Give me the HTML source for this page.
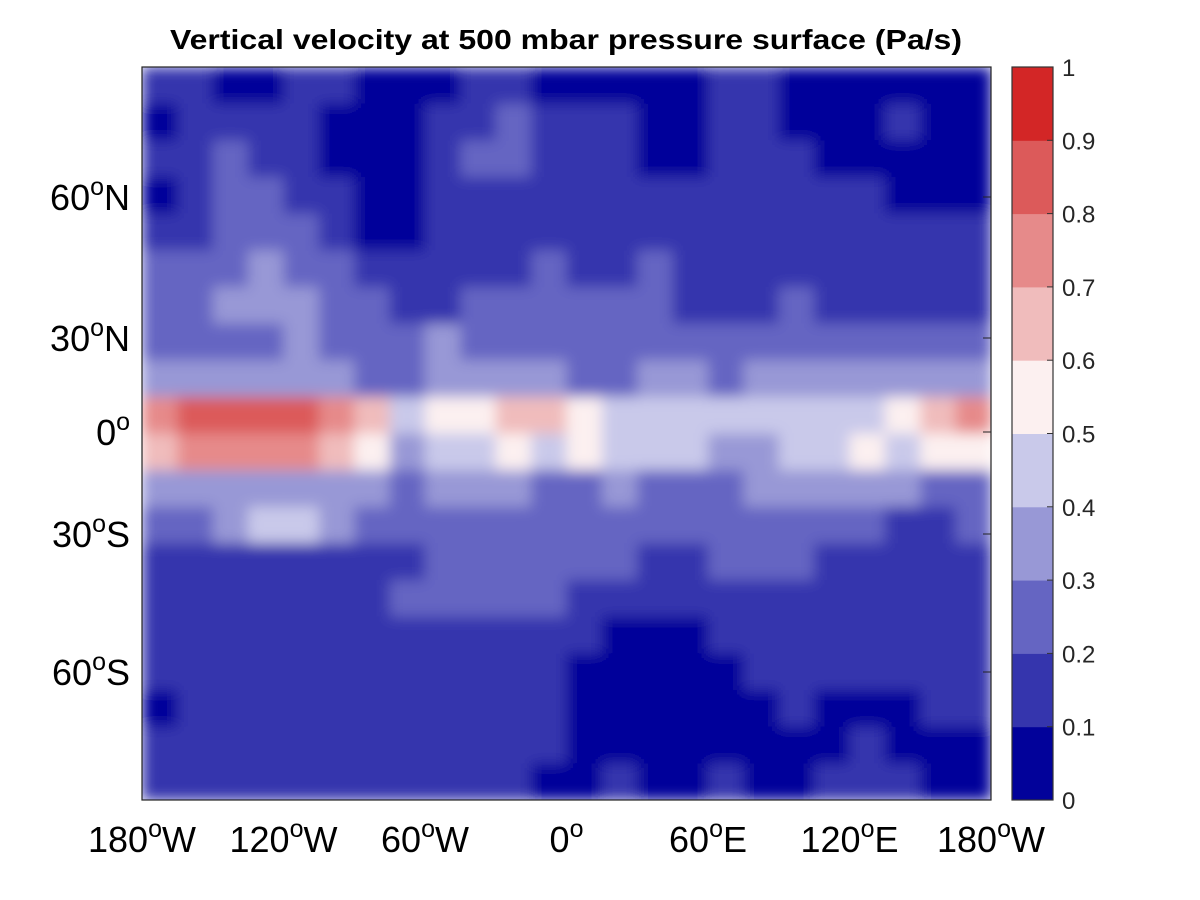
<!DOCTYPE html>
<html><head><meta charset="utf-8"><style>
html,body{margin:0;padding:0;background:#fff;width:1200px;height:900px;overflow:hidden}
svg text{font-family:"Liberation Sans",Arial,sans-serif}
</style></head><body>
<svg id="chart" width="1200" height="900" viewBox="0 0 1200 900" xmlns="http://www.w3.org/2000/svg">
<defs>
<clipPath id="plotclip"><rect x="142" y="67" width="849" height="733"/></clipPath>
<filter id="smooth" x="0" y="0" width="1" height="1"><feGaussianBlur stdDeviation="7" edgeMode="duplicate"/></filter>
</defs>
<rect width="1200" height="900" fill="#fff"/>
<g id="field" clip-path="url(#plotclip)"><g id="cells" filter="url(#smooth)"></g></g>
<rect x="142" y="67" width="849" height="733" fill="none" stroke="#222" stroke-width="1.2"/>
<g id="axes"></g>
<text x="566" y="49" text-anchor="middle" font-size="28" font-weight="bold" fill="#000" textLength="792" lengthAdjust="spacingAndGlyphs">Vertical velocity at 500 mbar pressure surface (Pa/s)</text>
<g id="cbar"></g>
</svg>
<script>
const levelColors=["#02029a","#3535ad","#6565c2","#9898d6","#c9c9ea","#fcf0f0","#f0bcbc","#e68a8a","#dc5a5a","#d32626"];
const cbTicks=[0,0.1,0.2,0.3,0.4,0.5,0.6,0.7,0.8,0.9,1];
const cbLabels=["0","0.1","0.2","0.3","0.4","0.5","0.6","0.7","0.8","0.9","1"];
const latTicks=[60,30,0,-30,-60];
const latLabels=["60","30","0","30","60"];
const latSuffix=["N","N","","S","S"];
const lonTicks=[-180,-120,-60,0,60,120,180];
const lonLabels=["180","120","60","0","60","120","180"];
const lonSuffix=["W","W","W","","E","E","W"];
const field=[
[0.15,0.15,0.05,0.05,0.15,0.15,0.05,0.05,0.05,0.15,0.15,0.05,0.05,0.05,0.05,0.05,0.15,0.15,0.05,0.05,0.05,0.05,0.05,0.05],
[0.05,0.15,0.15,0.15,0.15,0.05,0.05,0.05,0.15,0.15,0.25,0.15,0.15,0.15,0.05,0.05,0.15,0.15,0.05,0.05,0.05,0.15,0.05,0.05],
[0.15,0.15,0.25,0.15,0.15,0.05,0.05,0.05,0.15,0.25,0.25,0.15,0.15,0.15,0.05,0.05,0.15,0.15,0.15,0.05,0.05,0.05,0.05,0.05],
[0.05,0.15,0.25,0.25,0.15,0.15,0.05,0.05,0.15,0.15,0.15,0.15,0.15,0.15,0.15,0.15,0.15,0.15,0.15,0.15,0.15,0.05,0.05,0.05],
[0.15,0.15,0.25,0.25,0.25,0.15,0.05,0.05,0.15,0.15,0.15,0.15,0.15,0.15,0.15,0.15,0.15,0.15,0.15,0.15,0.15,0.15,0.15,0.15],
[0.25,0.25,0.25,0.35,0.25,0.25,0.15,0.15,0.15,0.15,0.15,0.25,0.15,0.15,0.25,0.15,0.15,0.15,0.15,0.15,0.15,0.15,0.15,0.15],
[0.25,0.25,0.35,0.35,0.35,0.25,0.25,0.15,0.15,0.25,0.25,0.25,0.25,0.25,0.25,0.15,0.15,0.15,0.25,0.15,0.15,0.15,0.15,0.15],
[0.25,0.25,0.25,0.25,0.35,0.25,0.25,0.25,0.35,0.25,0.25,0.25,0.25,0.25,0.25,0.25,0.25,0.25,0.25,0.25,0.25,0.25,0.25,0.25],
[0.35,0.35,0.35,0.35,0.35,0.35,0.25,0.25,0.35,0.35,0.35,0.35,0.25,0.25,0.35,0.35,0.25,0.35,0.35,0.35,0.35,0.35,0.35,0.35],
[0.75,0.85,0.85,0.85,0.85,0.75,0.65,0.45,0.55,0.55,0.65,0.65,0.55,0.45,0.45,0.45,0.45,0.45,0.45,0.45,0.45,0.55,0.65,0.75],
[0.65,0.75,0.75,0.75,0.75,0.65,0.55,0.35,0.45,0.45,0.55,0.45,0.55,0.45,0.45,0.45,0.35,0.35,0.45,0.45,0.55,0.45,0.55,0.55],
[0.35,0.35,0.35,0.35,0.35,0.35,0.35,0.25,0.35,0.35,0.35,0.25,0.25,0.35,0.25,0.25,0.25,0.35,0.35,0.35,0.35,0.35,0.25,0.25],
[0.25,0.25,0.35,0.45,0.45,0.35,0.25,0.25,0.25,0.25,0.25,0.25,0.25,0.25,0.25,0.25,0.25,0.25,0.25,0.25,0.25,0.15,0.15,0.25],
[0.15,0.15,0.15,0.15,0.15,0.15,0.15,0.15,0.25,0.25,0.25,0.25,0.25,0.25,0.15,0.15,0.25,0.25,0.25,0.15,0.15,0.15,0.15,0.15],
[0.15,0.15,0.15,0.15,0.15,0.15,0.15,0.25,0.25,0.25,0.25,0.25,0.15,0.15,0.15,0.15,0.15,0.15,0.15,0.15,0.15,0.15,0.15,0.15],
[0.15,0.15,0.15,0.15,0.15,0.15,0.15,0.15,0.15,0.15,0.15,0.15,0.15,0.05,0.05,0.05,0.15,0.15,0.15,0.15,0.15,0.15,0.15,0.15],
[0.15,0.15,0.15,0.15,0.15,0.15,0.15,0.15,0.15,0.15,0.15,0.15,0.05,0.05,0.05,0.05,0.05,0.15,0.15,0.15,0.15,0.15,0.15,0.15],
[0.05,0.15,0.15,0.15,0.15,0.15,0.15,0.15,0.15,0.15,0.15,0.15,0.05,0.05,0.05,0.05,0.05,0.05,0.15,0.05,0.05,0.05,0.15,0.15],
[0.15,0.15,0.15,0.15,0.15,0.15,0.15,0.15,0.15,0.15,0.15,0.15,0.05,0.05,0.05,0.05,0.05,0.05,0.05,0.05,0.15,0.05,0.05,0.05],
[0.15,0.15,0.15,0.15,0.15,0.15,0.15,0.15,0.15,0.15,0.15,0.05,0.05,0.15,0.05,0.05,0.15,0.05,0.05,0.15,0.15,0.15,0.05,0.05]
];
const NS="http://www.w3.org/2000/svg";
const X0=142,X1=991,Y0=67,Y1=800;
function xLon(l){return X0+(l+180)/360*(X1-X0);}
const latPx={"60":197,"30":338,"0":432,"-30":534,"-60":672};
function yLat(l){return latPx[String(l)];}
function colorFor(v){let i=Math.floor(v*10);if(i<0)i=0;if(i>9)i=9;return levelColors[i];}
const cells=document.getElementById('cells');
const nr=field.length,nc=field[0].length;
const cw=(X1-X0)/nc,ch=(Y1-Y0)/nr;
for(let r=0;r<nr;r++)for(let c=0;c<nc;c++){
  const el=document.createElementNS(NS,'rect');
  el.setAttribute('x',X0+c*cw);el.setAttribute('y',Y0+r*ch);
  el.setAttribute('width',cw+0.6);el.setAttribute('height',ch+0.6);
  el.setAttribute('fill',colorFor(field[r][c]));
  
  
  cells.appendChild(el);
}
const axes=document.getElementById('axes');
function txt(parent,x,y,s,size,anchor,fill){const t=document.createElementNS(NS,'text');t.setAttribute('x',x);t.setAttribute('y',y);t.setAttribute('font-size',size);t.setAttribute('text-anchor',anchor);t.setAttribute('fill',fill);t.textContent=s;parent.appendChild(t);return t;}
function degLabel(x,y,num,suf,anchor){
  const t=document.createElementNS(NS,'text');
  t.setAttribute('x',x);t.setAttribute('y',y);t.setAttribute('font-size',36);t.setAttribute('text-anchor',anchor);t.setAttribute('fill','#000');
  const a=document.createElementNS(NS,'tspan');a.textContent=num;t.appendChild(a);
  const b=document.createElementNS(NS,'tspan');b.setAttribute('dy',-15);b.setAttribute('font-size',25);b.textContent='o';t.appendChild(b);
  if(suf){const c=document.createElementNS(NS,'tspan');c.setAttribute('dy',15);c.textContent=suf;t.appendChild(c);}
  axes.appendChild(t);return t;
}
latTicks.forEach((l,i)=>{
  const y=yLat(l);
  const tk=document.createElementNS(NS,'line');tk.setAttribute('x1',X1-8);tk.setAttribute('x2',X1);tk.setAttribute('y1',y);tk.setAttribute('y2',y);tk.setAttribute('stroke','#222');
  
  
  axes.appendChild(tk);
  const t=degLabel(130,y+13,latLabels[i],latSuffix[i],'end');
  
  
});
lonTicks.forEach((l,i)=>{
  const x=xLon(l);
  const t=degLabel(x,852,lonLabels[i],lonSuffix[i],'middle');
  
  
});
const cb=document.getElementById('cbar');
const CX=1012,CW=41,CY0=67,CY1=800;
function yCb(v){return CY1-v*(CY1-CY0);}
for(let i=0;i<levelColors.length;i++){
  const r=document.createElementNS(NS,'rect');
  r.setAttribute('x',CX);r.setAttribute('y',yCb(cbTicks[i+1]));r.setAttribute('width',CW);r.setAttribute('height',yCb(cbTicks[i])-yCb(cbTicks[i+1])+0.5);
  r.setAttribute('fill',levelColors[i]);
  
  
  cb.appendChild(r);
}
const fr=document.createElementNS(NS,'rect');fr.setAttribute('x',CX);fr.setAttribute('y',CY0);fr.setAttribute('width',CW);fr.setAttribute('height',CY1-CY0);fr.setAttribute('fill','none');fr.setAttribute('stroke','#333');fr.setAttribute('stroke-width','1.2');


cb.appendChild(fr);
cbTicks.forEach((v,i)=>{
  const y=yCb(v);
  const tk=document.createElementNS(NS,'line');tk.setAttribute('x1',CX+CW-6);tk.setAttribute('x2',CX+CW);tk.setAttribute('y1',y);tk.setAttribute('y2',y);tk.setAttribute('stroke','#333');
  
  
  cb.appendChild(tk);
  const t=txt(cb,1062,y+9,cbLabels[i],24,'start','#262626');
  
  
});
</script>
</body></html>
